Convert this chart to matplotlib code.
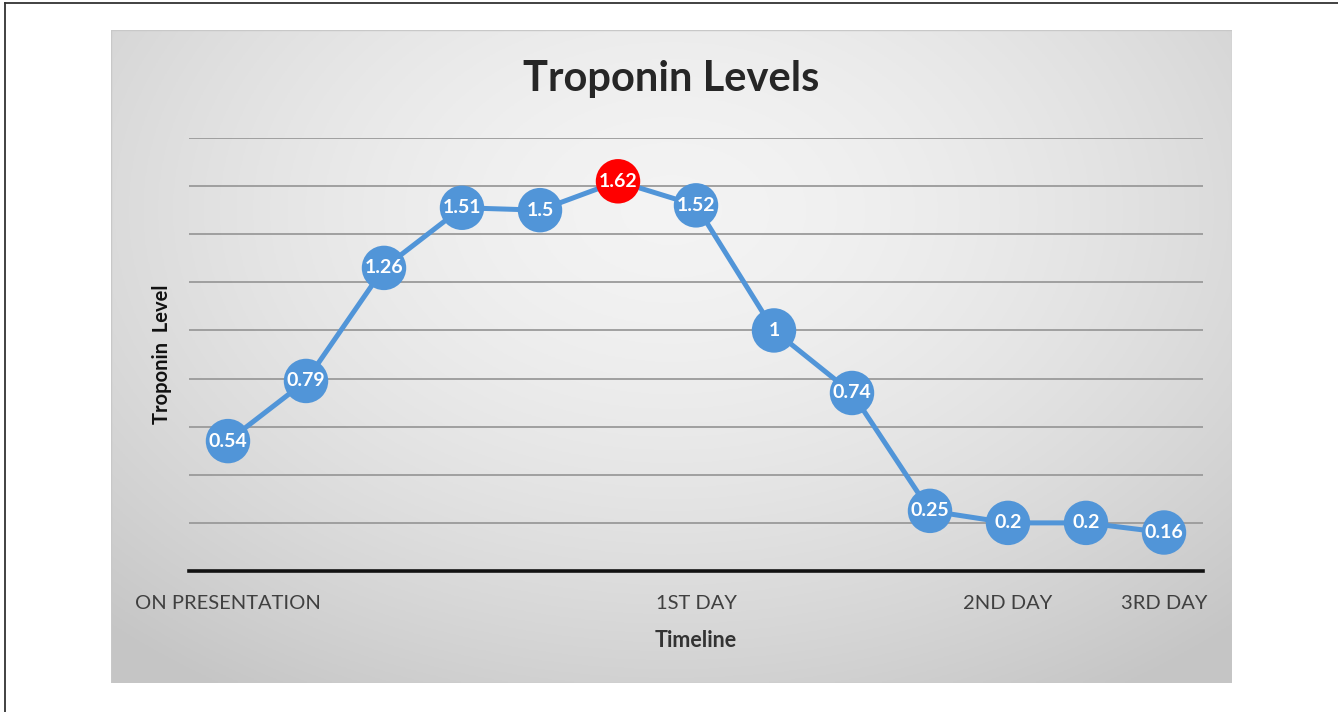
import numpy as np
import matplotlib
matplotlib.use("Agg")
import matplotlib.pyplot as plt
from matplotlib.patches import Rectangle
from matplotlib.lines import Line2D

categories = ["ON PRESENTATION", "", "", "", "", "", "1ST DAY", "", "", "", "2ND DAY", "", "3RD DAY"]
values = [0.54, 0.79, 1.26, 1.51, 1.5, 1.62, 1.52, 1.0, 0.74, 0.25, 0.2, 0.2, 0.16]
labels = ["0.54", "0.79", "1.26", "1.51", "1.5", "1.62", "1.52", "1", "0.74", "0.25", "0.2", "0.2", "0.16"]
peak_index = 5
title = "Troponin Levels"
xlabel = "Timeline"
ylabel = "Troponin  Level"

W, H = 1338, 712
fig = plt.figure(figsize=(W / 100, H / 100), dpi=100)
fig.patch.set_facecolor("white")

FONT = ["Lato", "DejaVu Sans"]

# outer border (top and left edges visible)
fig.add_artist(Line2D([4.5 / W, 4.5 / W], [0, 1 - 2.5 / H], transform=fig.transFigure,
                      color="#333333", linewidth=1.3))
fig.add_artist(Line2D([4.5 / W, 1], [1 - 2.5 / H, 1 - 2.5 / H], transform=fig.transFigure,
                      color="#333333", linewidth=1.3))

# gradient panel
px0, px1, py0, py1 = 111, 1232, 30, 683
bg = fig.add_axes([px0 / W, 1 - py1 / H, (px1 - px0) / W, (py1 - py0) / H])
nx, ny = 400, 240
gx, gy = np.meshgrid(np.linspace(-1, 1, nx), np.linspace(-1, 1, ny))
r = np.sqrt((gx * 0.95) ** 2 + ((gy + 0.45) * 0.8) ** 2)
shade = 0.955 - 0.18 * np.clip(r, 0, 1.4) ** 1.6 / 1.4 ** 1.6
img = np.dstack([shade, shade, shade])
bg.imshow(img, aspect="auto", extent=[0, 1, 0, 1], origin="upper")
bg.set_axis_off()
bg.add_patch(Rectangle((0, 0), 1, 1, transform=bg.transAxes, fill=False,
                       edgecolor="#c8c8c8", linewidth=1))

# main axes
ax_l, ax_r = 189, 1203
ax_b, ax_t = 571, 138
ax = fig.add_axes([ax_l / W, 1 - ax_b / H, (ax_r - ax_l) / W, (ax_b - ax_t) / H])
ax.set_facecolor("none")
x = np.arange(len(values))
ax.set_xlim(-0.5, len(values) - 0.5)
ax.set_ylim(0, 1.8)
ax.set_yticks(np.arange(0.2, 1.81, 0.2))
ax.yaxis.grid(True, color="#9a9a9a", linewidth=1.3)
ax.set_axisbelow(True)
ax.tick_params(axis="y", length=0, labelleft=False)
ax.set_xticks(x)
ax.set_xticklabels(categories, fontsize=14.5, color="#404040", family=FONT)
ax.tick_params(axis="x", length=0, pad=17)
for s in ["top", "right", "left"]:
    ax.spines[s].set_visible(False)
ax.spines["bottom"].set_color("#111111")
ax.spines["bottom"].set_linewidth(2.6)
ax.spines["bottom"].set_zorder(1)

blue = "#5195d8"
ax.plot(x, values, color=blue, linewidth=3.6, zorder=3, clip_on=False)
colors = [("#ff0000" if i == peak_index else blue) for i in range(len(values))]
ax.scatter(x, values, s=32 ** 2, c=colors, zorder=4, clip_on=False, linewidths=0)
for xi, v, lab in zip(x, values, labels):
    ax.text(xi, v, lab, ha="center", va="center", color="white", fontsize=14,
            fontweight="bold", family=FONT, zorder=5)

ax.set_xlabel(xlabel, fontsize=15.5, fontweight="bold", color="#333333", family=FONT, labelpad=13)
ax.set_ylabel(ylabel, fontsize=14.5, fontweight="bold", color="#111111", family=FONT, labelpad=12)

fig.text((px0 + px1) / 2 / W, 1 - 79 / H, title, ha="center", va="center",
         fontsize=30, fontweight="bold", color="#262626", family=FONT)

fig.savefig("out.png", dpi=100)
